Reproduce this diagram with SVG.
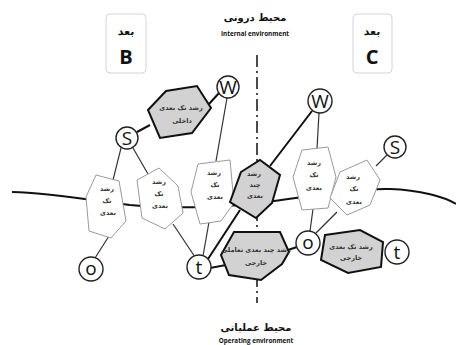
<svg xmlns="http://www.w3.org/2000/svg" width="456" height="345" viewBox="0 0 456 345">
<style>
.bg{fill:#fff}
.box{fill:#fff;stroke:#d4d4d4;stroke-width:1}
.thin{stroke:#333;stroke-width:1.2;fill:none}
.thick{stroke:#111;stroke-width:2;fill:none}
.hw{fill:#fff;stroke:#9a9a9a;stroke-width:1}
.hg{fill:#d2d2d2;stroke:#111;stroke-width:2}
.circ{fill:#fff;stroke:#222;stroke-width:1.4}
.ar{font-family:"DejaVu Sans",sans-serif;font-size:6.5px;font-weight:bold;fill:#333;text-anchor:middle;dominant-baseline:middle}
.ltr{font-family:"Open Sans","Liberation Sans",sans-serif;font-size:19px;fill:#111;text-anchor:middle;dominant-baseline:central}
.title{font-family:"DejaVu Sans",sans-serif;font-size:10px;font-weight:bold;fill:#111;text-anchor:middle}
.en{font-family:"Open Sans","Liberation Sans",sans-serif;font-size:6.3px;font-weight:bold;fill:#111;text-anchor:middle}
.bt{font-family:"DejaVu Sans",sans-serif;font-size:11px;font-weight:bold;fill:#111;text-anchor:middle}
.bl{font-family:"Open Sans","Liberation Sans",sans-serif;font-size:20px;font-weight:bold;fill:#111;text-anchor:middle}
</style>
<rect class="bg" x="0" y="0" width="456" height="345"/>

<g id="labels">
<text class="title" x="255" y="21">محیط درونی</text>
<text class="en" x="255" y="36">Internal environment</text>
<text class="title" x="256" y="331">محیط عملیاتی</text>
<text class="en" x="256" y="343">Operating environment</text>
</g>

<g id="box-B">
<rect class="box" x="106" y="14" width="40" height="59" rx="4"/>
<text class="bt" x="126" y="35">بعد</text>
<text class="bl" x="126" y="64">B</text>
</g>
<g id="box-C">
<rect class="box" x="353" y="14" width="39" height="59" rx="4"/>
<text class="bt" x="372" y="35">بعد</text>
<text class="bl" x="372" y="64">C</text>
</g>

<g id="connectors">
<path class="thick" d="M 12,192 C 50,193 90,200 130,205 C 160,208 200,208 240,205 C 290,200 350,188 390,189 C 420,190 445,197 456,204"/>
<line x1="257" y1="55" x2="257" y2="303" stroke="#111" stroke-width="1.5" stroke-dasharray="12 4 2 4"/>
<line class="thick" x1="137" y1="132" x2="150" y2="125"/>
<line class="thick" x1="209" y1="104" x2="219" y2="93"/>
<line class="thin" x1="121" y1="148" x2="113" y2="180"/>
<line class="thin" x1="133" y1="148" x2="148" y2="174"/>
<line class="thin" x1="109" y1="236" x2="95" y2="258"/>
<line class="thin" x1="173" y1="224" x2="195" y2="257"/>
<line class="thin" x1="227" y1="98" x2="216" y2="161"/>
<line class="thin" x1="209" y1="222" x2="203" y2="256"/>
<line class="thick" x1="312" y1="111" x2="270" y2="166"/>
<line class="thick" x1="240" y1="210" x2="208" y2="259"/>
<line class="thick" x1="210" y1="268" x2="226" y2="265"/>
<line class="thick" x1="288" y1="250" x2="297" y2="247"/>
<line class="thin" x1="319" y1="113" x2="317" y2="149"/>
<line class="thin" x1="310" y1="231" x2="313" y2="209"/>
<line class="thin" x1="316" y1="233" x2="337" y2="212"/>
<line class="thin" x1="387" y1="155" x2="376" y2="166"/>
</g>

<g id="hex-internal">
<polygon class="hg" points="148,110 166,91 197,86 211,108 192,133 160,138"/>
<text class="ar" x="181" y="108">رشد تک بعدی</text>
<text class="ar" x="182" y="121">داخلی</text>
</g>
<g id="hex-left1">
<polygon class="hw" points="96,175 119,181 126,221 111,238 89,231 86,197"/>
<text class="ar" x="107" y="189">رشد</text>
<text class="ar" x="107" y="201">تک</text>
<text class="ar" x="108" y="213">بعدی</text>
</g>
<g id="hex-left2">
<polygon class="hw" points="137,180 159,168 178,186 183,213 165,229 142,218"/>
<text class="ar" x="159" y="182">رشد</text>
<text class="ar" x="159" y="194">تک</text>
<text class="ar" x="160" y="206">بعدی</text>
</g>
<g id="hex-left3">
<polygon class="hw" points="198,164 230,160 234,203 221,221 200,224 191,192"/>
<text class="ar" x="214" y="173">رشد</text>
<text class="ar" x="215" y="185">تک</text>
<text class="ar" x="215" y="197">بعدی</text>
</g>
<g id="hex-multi">
<polygon class="hg" points="241,172 260,160 280,175 272,203 256,218 230,202"/>
<text class="ar" x="254" y="174">رشد</text>
<text class="ar" x="255" y="185">چند</text>
<text class="ar" x="255" y="196">بعدی</text>
</g>
<g id="hex-right1">
<polygon class="hw" points="302,150 328,147 336,177 328,208 302,210 293,177"/>
<text class="ar" x="314" y="163">رشد</text>
<text class="ar" x="314" y="175">تک</text>
<text class="ar" x="314" y="188">بعدی</text>
</g>
<g id="hex-right2">
<polygon class="hw" points="330,198 340,172 367,160 380,180 370,205 347,215"/>
<text class="ar" x="353" y="177">رشد</text>
<text class="ar" x="354" y="189">تک</text>
<text class="ar" x="354" y="202">بعدی</text>
</g>
<g id="hex-interactive">
<polygon class="hg" points="221,255 234,232 280,232 289,252 282,264 261,280 229,275"/>
<text class="ar" x="256" y="250">رشد چند بعدی تعاملی</text>
<text class="ar" x="256" y="263">خارجی</text>
</g>
<g id="hex-external">
<polygon class="hg" points="325,235 360,230 383,242 381,267 348,273 321,260"/>
<text class="ar" x="351" y="247">رشد تک بعدی</text>
<text class="ar" x="351" y="258">خارجی</text>
</g>

<g id="node-W1"><circle class="circ" cx="228" cy="87" r="11"/><text class="ltr" x="228" y="87">W</text></g>
<g id="node-W2"><circle class="circ" cx="320" cy="101" r="12"/><text class="ltr" x="320" y="101">W</text></g>
<g id="node-S1"><circle class="circ" cx="127" cy="138" r="11"/><text class="ltr" x="127" y="138">S</text></g>
<g id="node-S2"><circle class="circ" cx="395" cy="147" r="11"/><text class="ltr" x="395" y="147">S</text></g>
<g id="node-o1"><circle class="circ" cx="91" cy="269" r="12"/><text class="ltr" x="91" y="268">o</text></g>
<g id="node-t1"><circle class="circ" cx="199" cy="267" r="12"/><text class="ltr" x="199" y="267">t</text></g>
<g id="node-o2"><circle class="circ" cx="308" cy="243" r="12"/><text class="ltr" x="308" y="242">o</text></g>
<g id="node-t2"><circle class="circ" cx="397" cy="252" r="12"/><text class="ltr" x="397" y="252">t</text></g>
</svg>
